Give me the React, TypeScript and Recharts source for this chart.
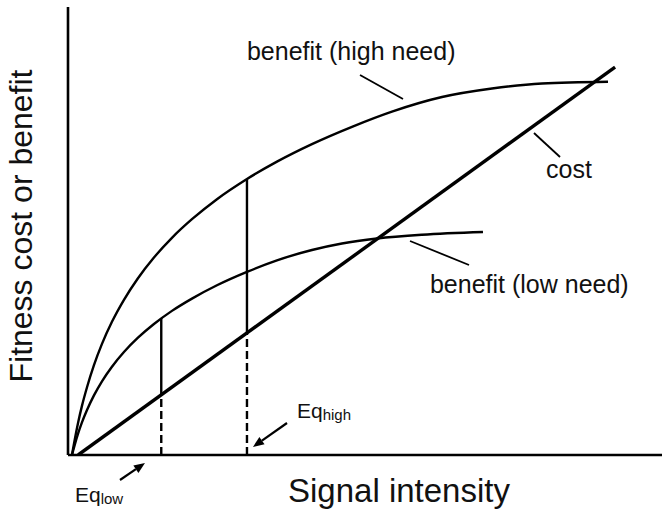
import React from "react";
import {
  LineChart,
  Line,
  XAxis,
  YAxis,
  ReferenceLine,
  ReferenceDot,
} from "recharts";

// Units are arbitrary (conceptual chart): x 0-100, y 0-100
const costX = [1.7, 92.1];
const costY = [0, 86.6];

const highNeedX = [0.67, 0.84, 1.18, 1.68, 2.35, 3.2, 4.37, 5.72, 7.4, 9.42, 11.78, 14.47, 17.5, 20.87, 25.08, 30.13, 35.18, 41.07, 47.81, 54.54, 62.96, 71.38, 79.8, 90.91];
const highNeedY = [0, 1.32, 3.77, 7.1, 10.96, 15.13, 20.07, 24.8, 29.73, 34.64, 39.46, 44.08, 48.48, 52.63, 57.1, 61.61, 65.49, 69.4, 73.26, 76.65, 79.91, 81.81, 82.92, 83.3];

const lowNeedX = [0.67, 0.84, 1.18, 1.68, 2.35, 3.2, 4.37, 5.72, 7.4, 9.42, 11.78, 14.47, 17.5, 20.87, 25.08, 30.13, 35.18, 41.07, 46.12, 52.02, 59.59, 69.86];
const lowNeedY = [0, 0.87, 2.5, 4.71, 7.28, 10.04, 13.3, 16.45, 19.71, 22.99, 26.18, 29.24, 32.17, 34.91, 37.88, 40.87, 43.44, 45.76, 47.21, 48.33, 49.17, 49.78];

// equilibrium signal levels and the gap (benefit - cost) at each
const eqLowX = 15.7;
const eqLowCost = 13.6;
const eqLowBenefit = 30.5;
const eqHighX = 30.13;
const eqHighCost = 27.4;
const eqHighBenefit = 61.61;

const FONT = "'Liberation Sans', Arial, Helvetica, sans-serif";

const toPts = (xs: number[], ys: number[]) => xs.map((x, i) => ({ x, y: ys[i] }));

const costData = toPts(costX, costY);
const highData = toPts(highNeedX, highNeedY);
const lowData = toPts(lowNeedX, lowNeedY);
const lowGap = toPts([eqLowX, eqLowX], [eqLowCost, eqLowBenefit]);
const highGap = toPts([eqHighX, eqHighX], [eqHighCost, eqHighBenefit]);
const lowDrop = toPts([eqLowX, eqLowX], [0, eqLowCost]);
const highDrop = toPts([eqHighX, eqHighX], [0, eqHighCost]);

// leader lines from labels to curves
const leaders = [
  { x1: 49.16, y1: 84.82, x2: 56.4, y2: 79.46 },
  { x1: 78.45, y1: 71.88, x2: 82.83, y2: 66.52 },
  { x1: 57.58, y1: 47.77, x2: 67.51, y2: 42.41 },
];

// arrows pointing at the equilibria
const arrows = [
  { x1: 36.87, y1: 7.14, x2: 31.14, y2: 1.79 },
  { x1: 8.75, y1: -5.58, x2: 12.96, y2: -1.79 },
];

const labels = [
  { x: 30.13, y: 88.17, text: "benefit (high need)" },
  { x: 80.47, y: 61.83, text: "cost" },
  { x: 60.94, y: 36.16, text: "benefit (low need)" },
];

const eqLabels = [
  { x: 38.55, y: 8.26, sub: "high" },
  { x: 1.18, y: -10.49, sub: "low" },
];

function ArrowShape(props: any) {
  const { x1, y1, x2, y2 } = props;
  const ang = Math.atan2(y2 - y1, x2 - x1);
  const len = 11;
  const w = 4.5;
  const bx = x2 - len * Math.cos(ang);
  const by = y2 - len * Math.sin(ang);
  const px = -Math.sin(ang) * w;
  const py = Math.cos(ang) * w;
  return (
    <g>
      <line x1={x1} y1={y1} x2={bx} y2={by} stroke="#000" strokeWidth={2.2} />
      <polygon points={`${x2},${y2} ${bx + px},${by + py} ${bx - px},${by - py}`} fill="#000" />
    </g>
  );
}

export default function App() {
  return (
    <div style={{ position: "absolute", left: 0, top: 0, width: 664, height: 509, background: "#fff" }}>
      <LineChart width={664} height={509} margin={{ top: 7, right: 2, left: 0, bottom: 0 }}>
        <XAxis
          type="number"
          dataKey="x"
          domain={[0, 100]}
          allowDataOverflow
          tick={false}
          tickLine={false}
          height={54}
          axisLine={{ stroke: "#000", strokeWidth: 2.6 }}
          label={{
            content: ({ viewBox }: any) => (
              <text
                x={viewBox.x + 331}
                y={viewBox.y + 47}
                textAnchor="middle"
                fontFamily={FONT}
                fontSize={33}
                fill="#111"
              >
                Signal intensity
              </text>
            ),
          }}
        />
        <YAxis
          type="number"
          dataKey="y"
          domain={[0, 100]}
          allowDataOverflow
          tick={false}
          tickLine={false}
          width={68}
          axisLine={{ stroke: "#000", strokeWidth: 2.6 }}
          label={{
            content: ({ viewBox }: any) => {
              const cx = viewBox.x + 32;
              const cy = viewBox.y + 219;
              return (
                <text
                  x={cx}
                  y={cy}
                  transform={`rotate(-90 ${cx} ${cy})`}
                  textAnchor="middle"
                  fontFamily={FONT}
                  fontSize={32}
                  fill="#111"
                >
                  Fitness cost or benefit
                </text>
              );
            },
          }}
        />
        <Line data={highData} dataKey="y" type="monotone" stroke="#000" strokeWidth={2.4} dot={false} activeDot={false} isAnimationActive={false} />
        <Line data={lowData} dataKey="y" type="monotone" stroke="#000" strokeWidth={2.4} dot={false} activeDot={false} isAnimationActive={false} />
        <Line data={costData} dataKey="y" type="linear" stroke="#000" strokeWidth={3.4} dot={false} activeDot={false} isAnimationActive={false} />
        <Line data={lowGap} dataKey="y" type="linear" stroke="#000" strokeWidth={2.4} dot={false} activeDot={false} isAnimationActive={false} />
        <Line data={highGap} dataKey="y" type="linear" stroke="#000" strokeWidth={2.4} dot={false} activeDot={false} isAnimationActive={false} />
        <Line data={lowDrop} dataKey="y" type="linear" stroke="#000" strokeWidth={2.4} strokeDasharray="8 4" dot={false} activeDot={false} isAnimationActive={false} />
        <Line data={highDrop} dataKey="y" type="linear" stroke="#000" strokeWidth={2.4} strokeDasharray="8 4" dot={false} activeDot={false} isAnimationActive={false} />

        {leaders.map((l, i) => (
          <ReferenceLine
            key={`leader-${i}`}
            segment={[{ x: l.x1, y: l.y1 }, { x: l.x2, y: l.y2 }]}
            stroke="#000"
            strokeWidth={1.8}
            ifOverflow="visible"
          />
        ))}
        {arrows.map((a, i) => (
          <ReferenceLine
            key={`arrow-${i}`}
            segment={[{ x: a.x1, y: a.y1 }, { x: a.x2, y: a.y2 }]}
            ifOverflow="visible"
            shape={ArrowShape}
          />
        ))}
        {labels.map((l, i) => (
          <ReferenceDot
            key={`label-${i}`}
            x={l.x}
            y={l.y}
            r={0}
            ifOverflow="visible"
            shape={(p: any) => (
              <text x={p.cx} y={p.cy} fontFamily={FONT} fontSize={25} fill="#111">
                {l.text}
              </text>
            )}
          />
        ))}
        {eqLabels.map((l, i) => (
          <ReferenceDot
            key={`eq-${i}`}
            x={l.x}
            y={l.y}
            r={0}
            ifOverflow="visible"
            shape={(p: any) => (
              <text x={p.cx} y={p.cy} fontFamily={FONT} fontSize={21} fill="#111">
                Eq
                <tspan fontSize={15} dy={2}>
                  {l.sub}
                </tspan>
              </text>
            )}
          />
        ))}
      </LineChart>
    </div>
  );
}
